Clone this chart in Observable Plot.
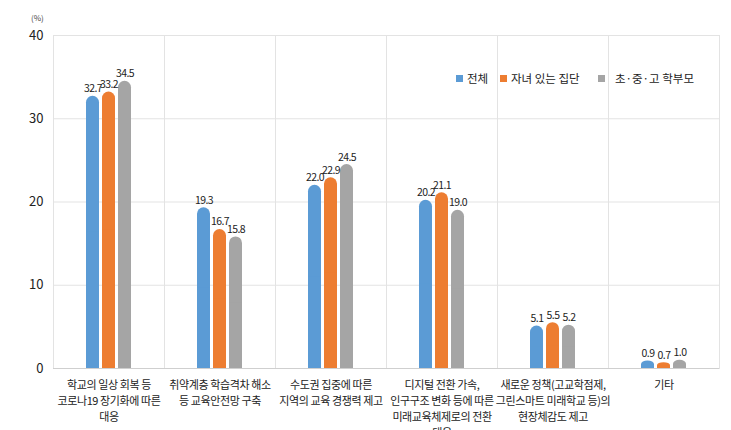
<!DOCTYPE html>
<html><head><meta charset="utf-8">
<script src="https://cdn.jsdelivr.net/npm/d3@7"></script>
<script src="https://cdn.jsdelivr.net/npm/@observablehq/plot@0.6"></script>
<style>
body{margin:0;background:#fff;font-family:"Noto Sans CJK KR","Noto Sans",sans-serif;}
#wrap{position:relative;width:731px;height:430px;}
#unit{position:absolute;left:31px;top:13px;font-size:8px;line-height:10px;color:#444;}
#legend{position:absolute;left:456px;top:71px;font-size:11.5px;line-height:14px;color:#222;}
#legend span.it{position:absolute;white-space:nowrap;}
#legend i{display:inline-block;width:7px;height:7px;margin-right:4px;vertical-align:1px;}
</style></head>
<body><div id="wrap"><div id="unit">(%)</div><div id="legend"></div></div>
<script>
const categories = [
  "학교의 일상 회복 등\n코로나19 장기화에 따른\n대응",
  "취약계층 학습격차 해소\n등 교육안전망 구축",
  "수도권 집중에 따른\n지역의 교육 경쟁력 제고",
  "디지털 전환 가속,\n인구구조 변화 등에 따른\n미래교육체제로의 전환\n대응",
  "새로운 정책(고교학점제,\n그린스마트 미래학교 등)의\n현장체감도 제고",
  "기타"
];
const series = ["전체", "자녀 있는 집단", "초·중·고 학부모"];
const colors = ["#5B9BD5", "#ED7D31", "#A5A5A5"];
const totalValues = [32.7, 19.3, 22.0, 20.2, 5.1, 0.9];
const parentValues = [33.2, 16.7, 22.9, 21.1, 5.5, 0.7];
const schoolParentValues = [34.5, 15.8, 24.5, 19.0, 5.2, 1.0];
const yTicks = [0, 10, 20, 30, 40];

const valuesBySeries = [totalValues, parentValues, schoolParentValues];
const data = [];
categories.forEach((c, i) => series.forEach((s, j) => data.push({cat: c, series: s, value: valuesBySeries[j][i]})));

const font = '"Noto Sans CJK KR","Noto Sans",sans-serif';
const chart = Plot.plot({
  width: 731, height: 430,
  marginLeft: 52, marginRight: 11, marginTop: 35, marginBottom: 62,
  style: {fontFamily: font, fontSize: "13px", color: "#222", background: "#fff"},
  fx: {domain: categories, paddingInner: 0, paddingOuter: 0, axis: null, label: null},
  x: {domain: series, paddingInner: 0.1875, paddingOuter: 1.97, axis: null, label: null},
  y: {domain: [0, 40], ticks: yTicks, tickSize: 0, tickPadding: 10, label: null, tickFormat: d => d},
  color: {domain: series, range: colors},
  marks: [
    Plot.ruleY(yTicks, {stroke: "#e3e3e3"}),
    Plot.frame({stroke: "#e3e3e3"}),
    Plot.ruleY([0], {stroke: "#cfcfcf"}),
    Plot.barY(data, {fx: "cat", x: "series", y: "value", fill: "series", rx: 6.5}),
    Plot.barY(data, {fx: "cat", x: "series", y1: 0, y2: d => d.value / 2, fill: "series"}),
    Plot.text(data, {fx: "cat", x: "series", y: "value", text: d => d.value.toFixed(1), lineAnchor: "bottom", dy: -4, fontSize: 10.5, fill: "#222", className: "vlab"}),
    Plot.text(categories, {fx: d => d, text: d => d, frameAnchor: "bottom", lineAnchor: "top", dy: 9, fontSize: 11, lineHeight: 1.45, fill: "#222", className: "clab"})
  ]
});
chart.querySelectorAll('[aria-label="y-axis tick label"] text').forEach(t => t.style.fontSize = "13px");
chart.querySelectorAll('.vlab text').forEach(t => t.style.letterSpacing = "-0.6px");
chart.querySelectorAll('.clab text').forEach(t => t.style.letterSpacing = "-0.4px");
document.getElementById("wrap").appendChild(chart);
const leg = document.getElementById("legend");
const offs = [0, 44, 142];
series.forEach((s, i) => {
  const sp = document.createElement("span");
  sp.className = "it";
  sp.style.left = offs[i] + "px";
  sp.innerHTML = `<i style="background:${colors[i]};margin-right:${i === 2 ? 10 : 4}px"></i>${s}`;
  leg.appendChild(sp);
});
</script></body></html>
